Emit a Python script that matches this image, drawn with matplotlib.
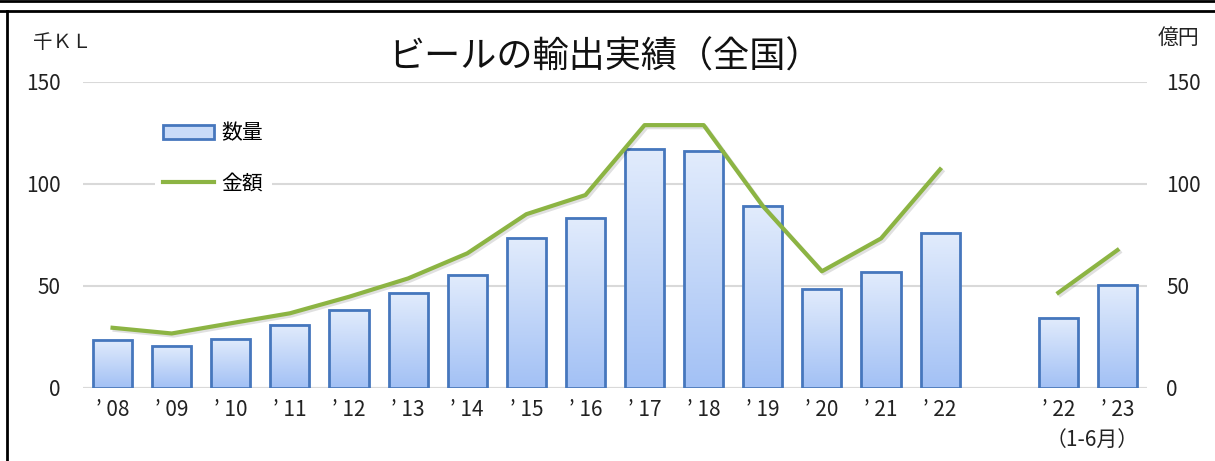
import numpy as np
import matplotlib
matplotlib.use("Agg")
import matplotlib.pyplot as plt
import matplotlib.patheffects as pe
from matplotlib.lines import Line2D
from matplotlib.patches import Patch

plt.rcParams['font.family'] = ['Noto Sans CJK JP', 'DejaVu Sans']

# データ
labels = ["’ 08", "’ 09", "’ 10", "’ 11", "’ 12", "’ 13", "’ 14", "’ 15", "’ 16",
          "’ 17", "’ 18", "’ 19", "’ 20", "’ 21", "’ 22", "", "’ 22", "’ 23"]
volume_year = [23.3, 20.5, 23.8, 30.6, 38.0, 46.5, 55.1, 73.4, 82.9,
               116.8, 116.1, 89.0, 48.1, 56.8, 75.9]
value_year = [29.3, 26.5, 31.5, 36.4, 44.5, 53.5, 65.8, 85.0, 94.4,
              128.7, 128.7, 89.0, 57.0, 73.1, 107.0]
volume_half = [33.9, 50.2]
value_half = [46.5, 67.4]

x_year = np.arange(len(volume_year))
x_half = np.array([16, 17])

fig = plt.figure(figsize=(12.15, 4.61), dpi=100)
ax = fig.add_axes([83/1215, 1-387.5/461, (1147-83)/1215, (387.5-81.7)/461])
ax2 = ax.twinx()

# 棒グラフ(グラデーション)
grad = np.linspace(0, 1, 256).reshape(-1, 1)
cmap = matplotlib.colors.LinearSegmentedColormap.from_list("g", ["#a3c1f5", "#e2ecfc"])
bars_all = list(ax.bar(x_year, volume_year, width=0.66, color="none",
                       edgecolor="#4677bd", linewidth=2, zorder=3))
bars_all += list(ax.bar(x_half, volume_half, width=0.66, color="none",
                        edgecolor="#4677bd", linewidth=2, zorder=3))
for b in bars_all:
    x0, w, h = b.get_x(), b.get_width(), b.get_height()
    ax.imshow(grad, extent=(x0, x0 + w, 0, h), origin="lower", aspect="auto",
              cmap=cmap, zorder=2)

ax.set_xlim(-0.5, 17.5)
ax.set_ylim(0, 150)
ax.set_yticks([0, 50, 100, 150])
ax.grid(axis="y", color="#d9d9d9", linewidth=1.5, zorder=0)
ax.set_axisbelow(True)
for s in ax.spines.values():
    s.set_visible(False)
ax.axhline(0, color="#d9d9d9", linewidth=1.5, zorder=1)
ax.tick_params(axis="both", length=0, labelsize=15, colors="#222222")
ax.tick_params(axis="y", pad=16)
ax.set_xticks(np.arange(len(labels)))
ax.set_xticklabels(labels)
ax.tick_params(axis="x", pad=8)

# 折れ線
shadow = [pe.SimpleLineShadow(offset=(1.5, -1.5), alpha=0.12), pe.Normal()]
ax2.plot(x_year, value_year, color="#8cb443", linewidth=3, path_effects=shadow, zorder=4)
ax2.plot(x_half, value_half, color="#8cb443", linewidth=3, path_effects=shadow, zorder=4)
ax2.set_ylim(0, 150)
ax2.set_yticks([0, 50, 100, 150])
for s in ax2.spines.values():
    s.set_visible(False)
ax2.tick_params(axis="y", length=0, labelsize=15, colors="#222222", pad=14)

# 凡例
handles = [Patch(facecolor="#c9dbf8", edgecolor="#4677bd", linewidth=2),
           Line2D([], [], color="#8cb443", linewidth=3)]
leg = ax2.legend(handles, ["数量", "金額"], loc="upper left",
                 bbox_to_anchor=(155/1215, 1-114/461), bbox_transform=fig.transFigure,
                 fontsize=15, frameon=True, facecolor="white", edgecolor="none",
                 framealpha=1, fancybox=False, handlelength=2.45, handleheight=0.6,
                 handletextpad=0.35, labelspacing=1.35, borderpad=0.4, borderaxespad=0)
leg.set_zorder(10)

# タイトル・単位
fig.text(605/1215, 1-58/461, "ビールの輸出実績（全国）", fontsize=26,
         ha="center", va="center", color="#111111")
fig.text(33/1215, 1-42/461, "千ＫＬ", fontsize=14, ha="left", va="center", color="#222222")
fig.text(1158/1215, 1-38/461, "億円", fontsize=15, ha="left", va="center", color="#222222")
fig.text(1092/1215, 1-440/461, "（1-6月）", fontsize=15, ha="center", va="center", color="#222222")

# 枠線
fig.add_artist(Line2D([0, 1], [1-1/461, 1-1/461], transform=fig.transFigure, color="black", linewidth=2))
fig.add_artist(Line2D([0, 1], [1-11.5/461, 1-11.5/461], transform=fig.transFigure, color="black", linewidth=2))
fig.add_artist(Line2D([6.5/1215, 6.5/1215], [0, 1-11.5/461], transform=fig.transFigure, color="black", linewidth=2))

fig.savefig("out.png", dpi=100, facecolor="white")
